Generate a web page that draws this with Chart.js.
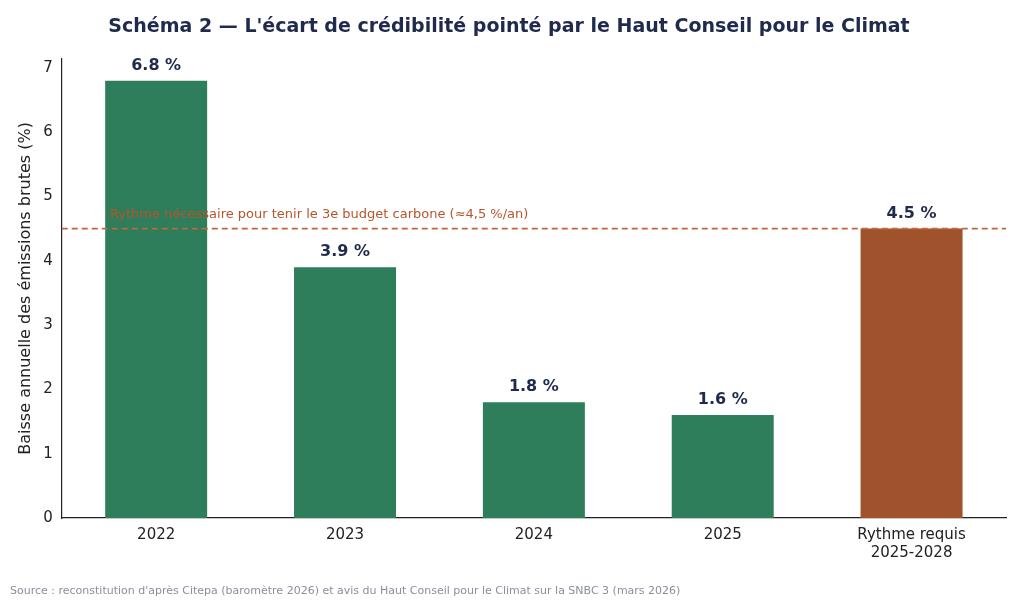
<!DOCTYPE html>
<html><head><meta charset="utf-8">
<script src="https://cdn.jsdelivr.net/npm/chart.js@4"></script>
<style>html,body{margin:0;padding:0;background:#fff}#w{width:1024px;height:601px;position:relative}</style>
</head><body><div id="w"><canvas id="c"></canvas></div>
<script>
const categories = [["2022"],["2023"],["2024"],["2025"],["Rythme requis","2025-2028"]];
const values = [6.8, 3.9, 1.8, 1.6, 4.5];
const barColors = ["#2e7d5b","#2e7d5b","#2e7d5b","#2e7d5b","#a0522d"];
const targetRate = 4.5;
const targetLabel = "Rythme nécessaire pour tenir le 3e budget carbone (≈4,5 %/an)";
const sourceText = "Source : reconstitution d'après Citepa (baromètre 2026) et avis du Haut Conseil pour le Climat sur la SNBC 3 (mars 2026)";
const F = "'DejaVu Sans', sans-serif";

const overlay = {
  id: 'overlay',
  afterDatasetsDraw(chart) {
    const {ctx, chartArea, scales:{x,y}} = chart;
    const yy = y.getPixelForValue(targetRate);
    ctx.save();
    ctx.strokeStyle = "#c0663f"; ctx.lineWidth = 1.6; ctx.setLineDash([6,4]);
    ctx.beginPath(); ctx.moveTo(chartArea.left, yy); ctx.lineTo(chartArea.right, yy); ctx.stroke();
    ctx.setLineDash([]);
    ctx.fillStyle = "#b5552b"; ctx.font = "13px " + F; ctx.textBaseline = "bottom"; ctx.textAlign = "left";
    ctx.fillText(targetLabel, 110, yy - 7);
    const meta = chart.getDatasetMeta(0);
    ctx.fillStyle = "#1f2a4d"; ctx.font = "bold 16px " + F; ctx.textAlign = "center";
    meta.data.forEach((b,i) => {
      ctx.fillText(values[i].toFixed(1) + " %", b.x, y.getPixelForValue(values[i]) - 7);
    });
    ctx.fillStyle = "#8a8f9c"; ctx.font = "11px " + F; ctx.textAlign = "left"; ctx.textBaseline = "middle";
    ctx.fillText(sourceText, 10, 591);
    ctx.restore();
  }
};

new Chart(document.getElementById('c'), {
  type: 'bar',
  data: { labels: categories, datasets: [{ data: values, backgroundColor: barColors, barPercentage: 0.54, categoryPercentage: 1 }] },
  options: {
    responsive: true, maintainAspectRatio: false, animation: false,
    layout: { padding: { left: 12, right: 18, top: 0, bottom: 36 } },
    plugins: {
      legend: { display: false }, tooltip: { enabled: false },
      title: { display: true, text: "Schéma 2 — L'écart de crédibilité pointé par le Haut Conseil pour le Climat",
        color: "#1f2a4d", font: { family: F, size: 19, weight: 'bold' }, padding: { top: 16, bottom: 20 } }
    },
    scales: {
      x: { grid: { display: false, drawTicks: true, tickLength: 5 }, border: { color: "#222", width: 1.2 },
           ticks: { color: "#222", font: { family: F, size: 15 }, padding: 3 } },
      y: { min: 0, max: 7.14, grid: { display: false, tickLength: 5 }, border: { color: "#222", width: 1.2 },
           afterBuildTicks(s){ s.ticks = [0,1,2,3,4,5,6,7].map(v=>({value:v})); },
           ticks: { color: "#222", font: { family: F, size: 15 }, padding: 4 },
           title: { display: true, text: "Baisse annuelle des émissions brutes (%)", color: "#222", font: { family: F, size: 16 } } }
    }
  },
  plugins: [overlay]
});
</script></body></html>
